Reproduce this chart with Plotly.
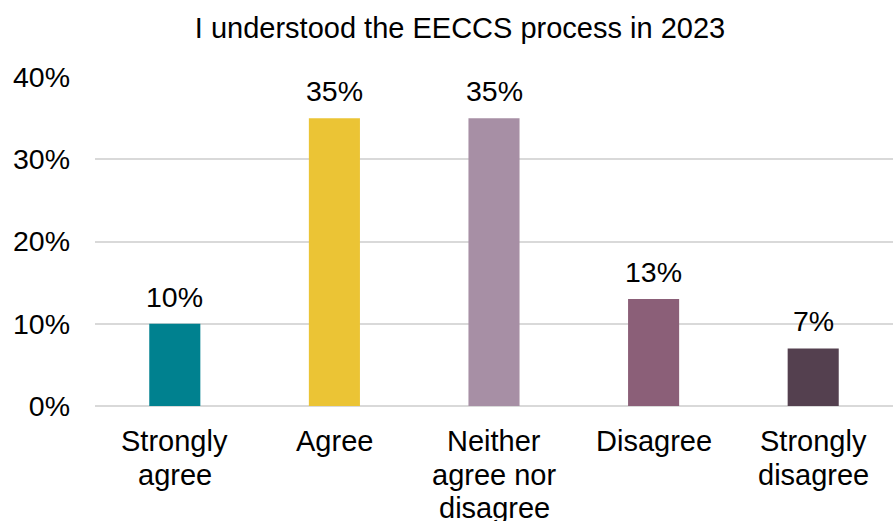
import plotly.graph_objects as go

categories = ["Strongly agree", "Agree", "Neither agree nor disagree", "Disagree", "Strongly disagree"]
category_lines = [["Strongly", "agree"], ["Agree"], ["Neither", "agree nor", "disagree"], ["Disagree"], ["Strongly", "disagree"]]
values = [10, 35, 35, 13, 7]
labels = ["10%", "35%", "35%", "13%", "7%"]
colors = ["#00818F", "#EBC435", "#A78FA5", "#8B5F78", "#54404F"]

font_family = "Liberation Sans, Arial, sans-serif"
fsize = 28.5

fig = go.Figure(
    go.Bar(
        x=categories,
        y=values,
        marker=dict(color=colors, line=dict(width=0)),
        width=0.32,
        hoverinfo="x+y",
    )
)

# value labels sitting above each bar
for cat, val, lab in zip(categories, values, labels):
    fig.add_annotation(
        x=cat,
        y=val,
        text=lab,
        showarrow=False,
        yanchor="bottom",
        yshift=9,
        font=dict(family=font_family, size=fsize, color="#000000"),
    )

# category labels under the axis, one line at a time for tight line spacing
first_line_offset = 35
line_step = 33.5
for cat, lines in zip(categories, category_lines):
    for i, line in enumerate(lines):
        fig.add_annotation(
            x=cat,
            xref="x",
            y=0,
            yref="paper",
            text=line,
            showarrow=False,
            xanchor="center",
            yanchor="middle",
            yshift=-(first_line_offset + line_step * i),
            font=dict(family=font_family, size=29, color="#000000"),
        )

fig.update_layout(
    width=893,
    height=521,
    margin=dict(l=95, r=0, t=77, b=115),
    paper_bgcolor="white",
    plot_bgcolor="white",
    showlegend=False,
    title=dict(
        text="I understood the EECCS process in 2023",
        x=460 / 893,
        xanchor="center",
        xref="container",
        y=1 - 28 / 521,
        yanchor="middle",
        yref="container",
        font=dict(family=font_family, size=29, color="#000000"),
    ),
    font=dict(family=font_family, size=fsize, color="#000000"),
)

fig.update_yaxes(
    range=[0, 40],
    tickvals=[0, 10, 20, 30, 40],
    ticktext=["0%", "10%", "20%", "30%", "40%"],
    showgrid=True,
    gridcolor="#D9D9D9",
    gridwidth=2,
    zeroline=True,
    zerolinecolor="#D9D9D9",
    zerolinewidth=2,
    showline=False,
    ticks="",
    ticklabelstandoff=24,
    automargin=False,
    tickfont=dict(family=font_family, size=fsize, color="#000000"),
)

fig.update_xaxes(
    showline=False,
    ticks="",
    showticklabels=False,
    automargin=False,
)

fig.write_html("out.html")
